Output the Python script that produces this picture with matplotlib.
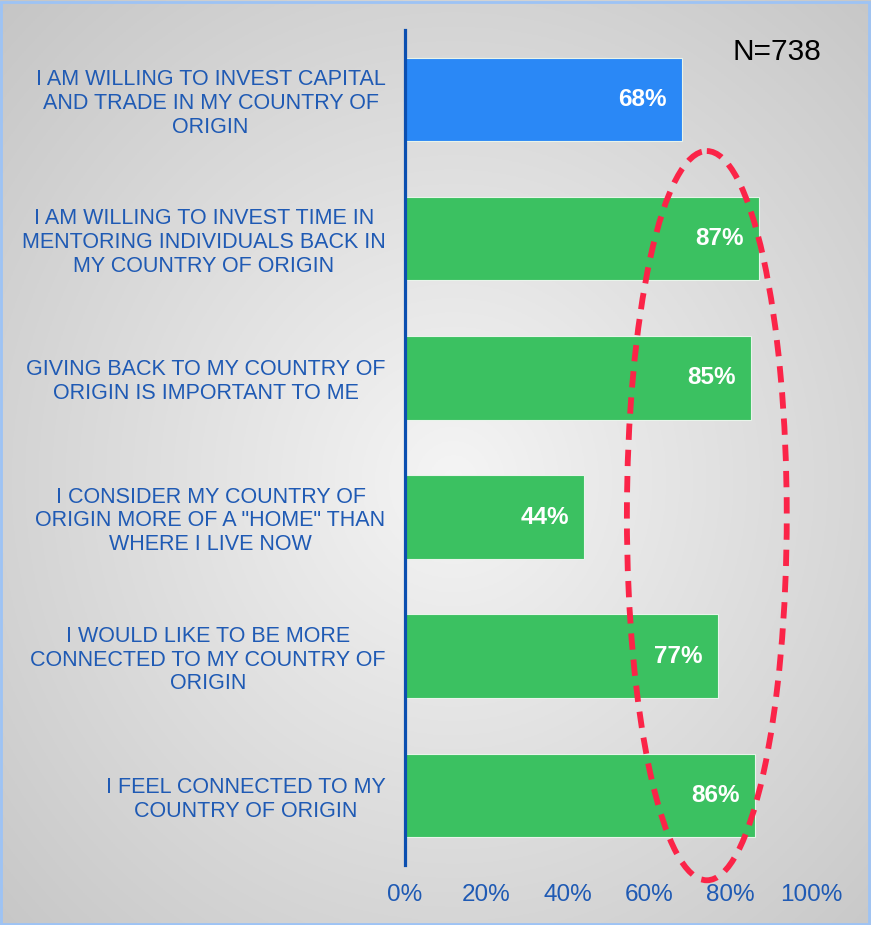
import matplotlib
matplotlib.use("Agg")
import matplotlib.pyplot as plt
from matplotlib.patches import Ellipse, Rectangle
import numpy as np

plt.rcParams['font.family'] = ['Liberation Sans', 'DejaVu Sans']

# Daten
labels = [
    "I AM WILLING TO INVEST CAPITAL\nAND TRADE IN MY COUNTRY OF\nORIGIN",
    "I AM WILLING TO INVEST TIME IN\nMENTORING INDIVIDUALS BACK IN\nMY COUNTRY OF ORIGIN",
    "GIVING BACK TO MY COUNTRY OF\nORIGIN IS IMPORTANT TO ME",
    "I CONSIDER MY COUNTRY OF\nORIGIN MORE OF A \"HOME\" THAN\nWHERE I LIVE NOW",
    "I WOULD LIKE TO BE MORE\nCONNECTED TO MY COUNTRY OF\nORIGIN",
    "I FEEL CONNECTED TO MY\nCOUNTRY OF ORIGIN",
]
values = [68, 87, 85, 44, 77, 86]
bar_colors = ["#2a88f6", "#3bc161", "#3bc161", "#3bc161", "#3bc161", "#3bc161"]
xticks = [0, 20, 40, 60, 80, 100]
xtick_labels = ["0%", "20%", "40%", "60%", "80%", "100%"]
n_text = "N=738"

txt_blue = "#1f5ab4"

fig = plt.figure(figsize=(8.71, 9.25), dpi=100)

# Hintergrund: radialer Verlauf grau -> hell
bg = fig.add_axes([0, 0, 1, 1])
gx, gy = np.meshgrid(np.linspace(0, 1, 400), np.linspace(0, 1, 400))
r = np.sqrt(((gx - 0.52) / 0.75) ** 2 + ((gy - 0.48) / 0.75) ** 2)
r = np.clip(r, 0, 1)
shade = 0.96 - 0.19 * r
bg.imshow(np.dstack([shade, shade, shade]), extent=[0, 1, 0, 1], aspect='auto', origin='lower')
bg.set_axis_off()
bg.add_patch(Rectangle((0.001, 0.001), 0.997, 0.997, transform=fig.transFigure,
                       fill=False, edgecolor="#9dc3f5", lw=2, zorder=5))

ax = fig.add_axes([0.465, 0.0649, 0.467, 0.9027])
ax.set_facecolor("none")
y = np.arange(len(values))
bars = ax.barh(y, values, height=0.6, color=bar_colors, edgecolor="#e8f4ea", linewidth=0.8, zorder=2)

for yi, v in zip(y, values):
    ax.annotate(f"{v}%", xy=(v, yi), xytext=(-11, 0), textcoords="offset points",
                ha="right", va="center", color="white", fontsize=17.5, fontweight="bold", zorder=4)

ax.set_xlim(0, 100)
ax.set_ylim(5.5, -0.5)
ax.set_xticks(xticks)
ax.set_xticklabels(xtick_labels, fontsize=17.5, color=txt_blue)
ax.set_yticks(y)
ax.set_yticklabels(labels, fontsize=15.5, color=txt_blue, multialignment="center", linespacing=1.17)
ax.tick_params(axis="both", length=0)
ax.tick_params(axis="x", pad=14)
ax.tick_params(axis="y", pad=14)

for s in ["top", "right", "bottom"]:
    ax.spines[s].set_visible(False)
ax.spines["left"].set_color("#0b4fb0")
ax.spines["left"].set_linewidth(2.3)

# rote gestrichelte Ellipse
ell = Ellipse((74.2, 2.99), 39.3, 5.24, fill=False, edgecolor="#fb2448", lw=4.2,
              linestyle=(0, (2.8, 1.7)), clip_on=False, zorder=3)
ax.add_patch(ell)

fig.text(0.892, 0.944, n_text, fontsize=21.5, color="black", ha="center", va="center")

fig.savefig("out.png", dpi=100)
